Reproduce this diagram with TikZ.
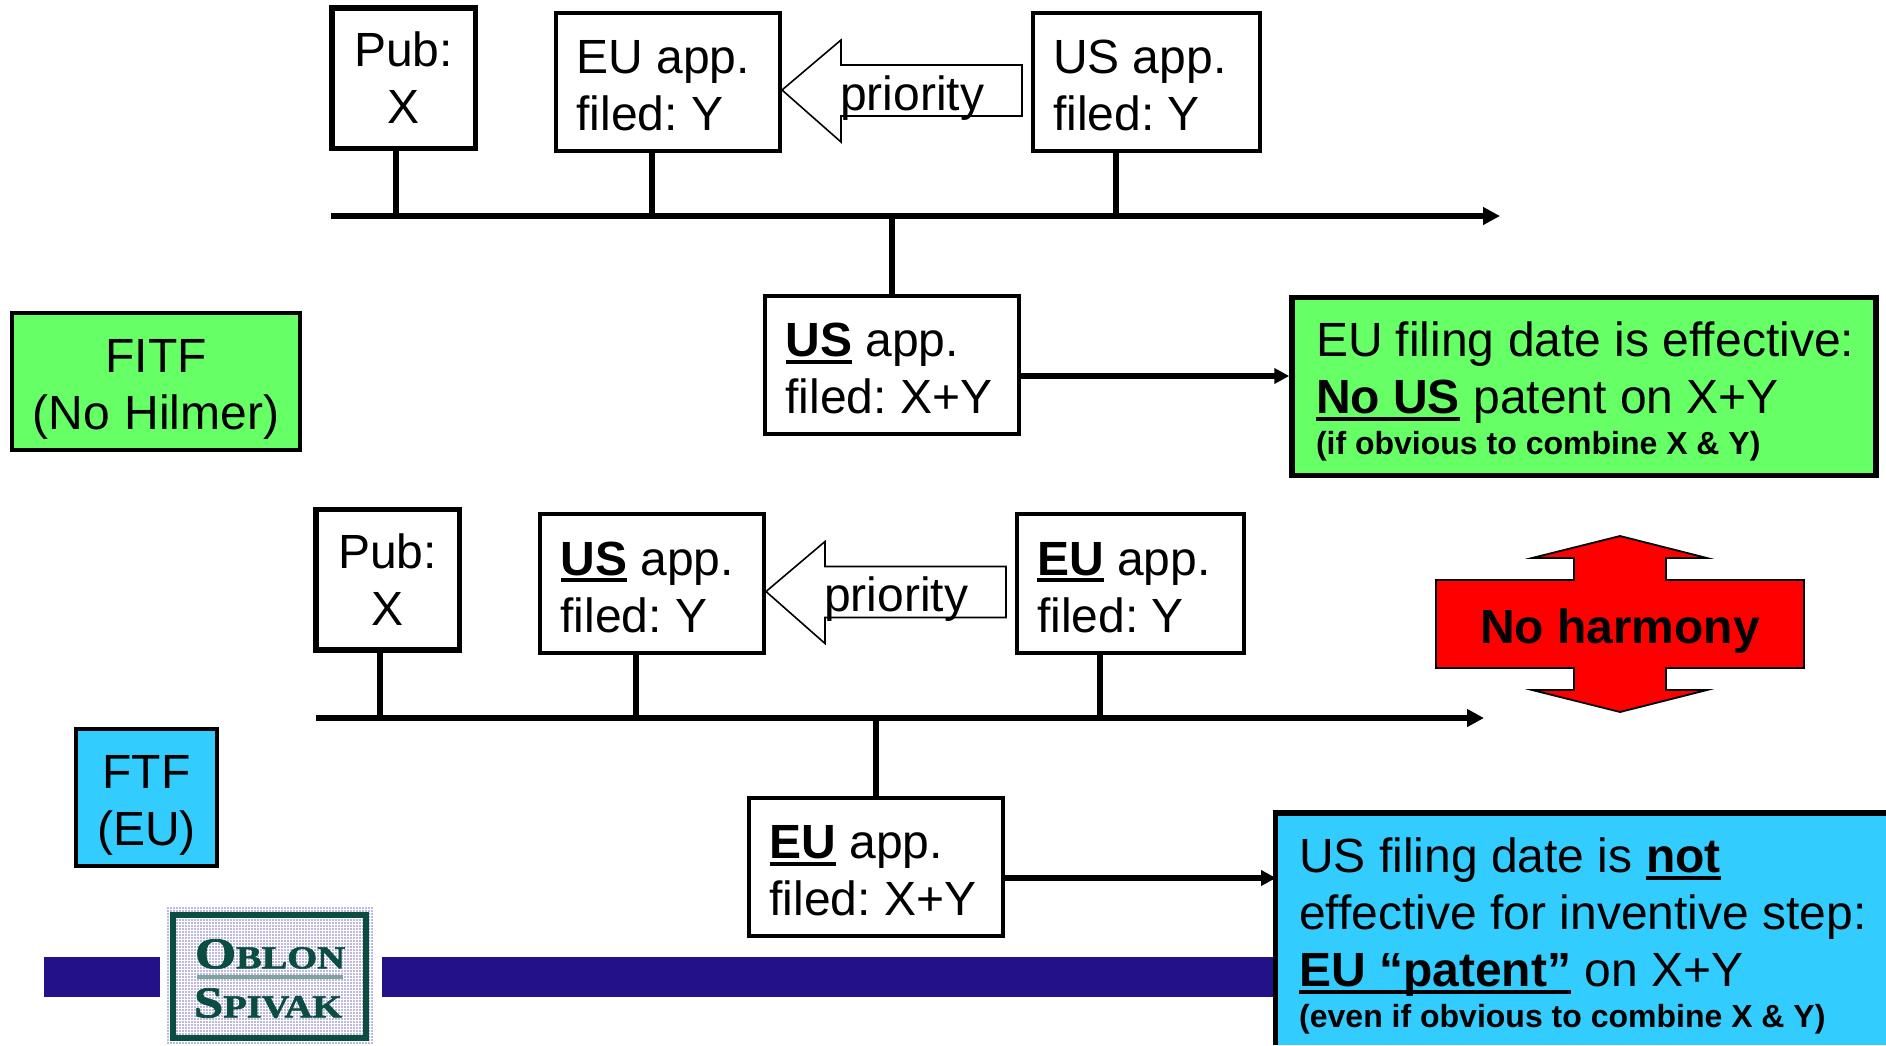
\documentclass[tikz,border=0pt]{standalone}
\usepackage{fontspec}
\setmainfont{Liberation Sans}
\newfontfamily\logofont[BoldFeatures={FakeBold=1.6}]{Liberation Serif}
\usetikzlibrary{arrows.meta,calc}
\definecolor{fitfgreen}{HTML}{66FF66}
\definecolor{ftfcyan}{HTML}{33CCFF}
\definecolor{barblue}{HTML}{221188}
\definecolor{logogreen}{HTML}{0B4D40}
\definecolor{logorule}{HTML}{7FA39B}
\definecolor{logodot}{HTML}{BDB8E0}
\newcommand{\bigtxt}{\fontsize{48}{57}\selectfont\frenchspacing}
\newcommand{\smalltxt}{\fontsize{32}{36}\bfseries\selectfont}
\newcommand{\ubf}[1]{\setbox0\hbox{\textbf{#1}}\rlap{\rule[-7pt]{\wd0}{4pt}}\box0\relax}
\newcommand{\plainsp}{\spaceskip=0pt\xspaceskip=0pt}
\newcommand{\lowera}{\plainsp\rule{0pt}{41pt}}
\newcommand{\lowerb}{\plainsp\rule{0pt}{48pt}}
\newcommand{\lowerc}{\plainsp\rule{0pt}{45pt}}
\tikzset{
  box/.style={draw=black,line width=4pt,fill=white,minimum width=#1,inner sep=0pt,font=\bigtxt},
  pubbox/.style={box=143.5pt,line width=5.5pt,minimum height=140.5pt,align=center},
  appbox/.style={box=#1,text width=#1-41pt,minimum height=138.5pt,align=left,execute at begin node=\lowera},
  sidebox/.style={draw=black,line width=3.5pt,align=center,inner sep=0pt,font=\bigtxt,execute at begin node=\lowerb},
  resultbox/.style={draw=black,line width=5.5pt,align=left,inner sep=0pt,font=\bigtxt,execute at begin node=\lowerc},
  tline/.style={draw=black,line width=5.5pt},
  tarrow/.style={tline,-{Triangle[length=17pt,width=17pt]}},
  outarrow/.style={draw=black,line width=5.5pt,-{Triangle[length=15pt,width=15pt]}},
  prio/.style={draw=black,line width=1.6pt,fill=white},
  ptxt/.style={inner sep=0pt,font=\fontsize{48}{57}\selectfont},
  logotxt/.style={inner sep=0pt,text=logogreen,font=\logofont\bfseries},
}
\begin{document}
\begin{tikzpicture}[x=1pt,y=-1pt]
\useasboundingbox (0,0) rectangle (1886,1045);

% bottom bar
\fill[barblue] (44,957) rectangle (160,997);
\fill[barblue] (382,957) rectangle (1280,997);

% upper row
\node[pubbox] (pubA) at (403.5,78) {Pub:\\X};
\node[appbox=224pt] (euA) at (668,82) {\mbox{EU app.}\\\mbox{filed: Y}};
\node[appbox=227pt] (usA) at (1146,82) {\mbox{US app.}\\\mbox{filed: Y}};
\coordinate (lA) at (331,216);
\coordinate (rA) at (1500,216);
\coordinate (s1A) at (396,216);
\coordinate (s2A) at (652,216);
\coordinate (s3A) at (892,216);
\coordinate (s4A) at (1116,216);
\node[appbox=254pt] (xyA) at (892,365) {\mbox{\ubf{US} app.}\\\mbox{filed: X+Y}};
\draw[tarrow] (lA) -- (rA);
\draw[tline] (pubA.south -| s1A) -- (s1A);
\draw[tline] (euA.south -| s2A) -- (s2A);
\draw[tline] (usA.south -| s4A) -- (s4A);
\draw[tline] (s3A) -- (xyA.north);
\node[resultbox,fill=fitfgreen,minimum width=584pt,text width=536pt,minimum height=178pt] (resA) at (1584,386.5)
  {\mbox{EU filing date is effective:}\\\mbox{\ubf{No US} patent on X+Y}\\[-16pt]\mbox{\smalltxt (if obvious to combine X \& Y)}};
\draw[outarrow] (xyA.east |- 0,376) -- (resA.west |- 0,376);
\draw[prio] ($(euA.east)+(0,8)$) -- ++(59,-50) -- ++(0,25) -- ++(181,0) -- ++(0,51) -- ++(-181,0) -- ++(0,26) -- cycle;
\node[ptxt] (prioA) at (912,98) {priority};
\node[sidebox,fill=fitfgreen,minimum width=288pt,text width=280pt,minimum height=137pt] (fitf) at (156,381.5) {FITF\\(No Hilmer)};

% lower row
\node[pubbox] (pubB) at (387.5,579.5) {Pub:\\X};
\node[appbox=224pt] (usB) at (652,583.5) {\mbox{\ubf{US} app.}\\\mbox{filed: Y}};
\node[appbox=227pt] (euB) at (1130,583.5) {\mbox{\ubf{EU} app.}\\\mbox{filed: Y}};
\coordinate (lB) at (316,718);
\coordinate (rB) at (1484,718);
\coordinate (s1B) at (380,718);
\coordinate (s2B) at (636,718);
\coordinate (s3B) at (876,718);
\coordinate (s4B) at (1100,718);
\node[appbox=254pt] (xyB) at (876,867) {\mbox{\ubf{EU} app.}\\\mbox{filed: X+Y}};
\draw[tarrow] (lB) -- (rB);
\draw[tline] (pubB.south -| s1B) -- (s1B);
\draw[tline] (usB.south -| s2B) -- (s2B);
\draw[tline] (euB.south -| s4B) -- (s4B);
\draw[tline] (s3B) -- (xyB.north);
\fill[ftfcyan] (1275.5,813) rectangle (1886,1045);
\draw[draw=black,line width=5.5pt] (1275.5,1045) |- (1886,813);
\node[inner sep=0pt,align=left,anchor=west,font=\bigtxt] (resB) at (1299,936)
  {US filing date is \ubf{not}\\effective for inventive step:\\\ubf{EU ``patent''} on X+Y\\[-16pt]{\smalltxt (even if obvious to combine X \& Y)}};
\draw[outarrow] (xyB.east |- 0,878) -- (1276,878);
\draw[prio] ($(usB.east)+(0,8)$) -- ++(59,-50) -- ++(0,25) -- ++(181,0) -- ++(0,51) -- ++(-181,0) -- ++(0,26) -- cycle;
\node[ptxt] (prioB) at (896,599) {priority};
\node[sidebox,fill=ftfcyan,minimum width=141pt,text width=133pt,minimum height=137pt] (ftf) at (146.5,797.5) {FTF\\(EU)};

% no harmony
\draw[draw=black,line width=1.8pt,fill=red,line join=miter]
  (1620,536) -- (1707,558) -- (1666,558) -- (1666,580) -- (1804,580) -- (1804,668) -- (1666,668)
  -- (1666,690) -- (1707,690) -- (1620,712) -- (1532,690) -- (1574,690) -- (1574,668) -- (1436,668)
  -- (1436,580) -- (1574,580) -- (1574,558) -- (1532,558) -- cycle;
\node[inner sep=0pt,font=\fontsize{48}{57}\bfseries\selectfont] (harm) at (1620,631) {No harmony};

% logo
\foreach \yy in {908,911,...,1043}{
  \draw[logodot,line width=1.4pt,dash pattern=on 1.5pt off 1.5pt] (167,\yy) -- (374,\yy);
}
\draw[logogreen,line width=5.5pt] (173,915) rectangle (366,1038);
\node[logotxt] (obl) at (270,954) {\scalebox{1.2}[1]{\fontsize{44}{44}\selectfont O\fontsize{32}{32}\selectfont BLON}};
\node[logotxt] (spv) at (268,1003) {\scalebox{1.2}[1]{\fontsize{44}{44}\selectfont S\fontsize{32}{32}\selectfont PIVAK}};
\draw[logorule,line width=3.5pt] (197,977) -- (343,977);
\end{tikzpicture}
\end{document}
